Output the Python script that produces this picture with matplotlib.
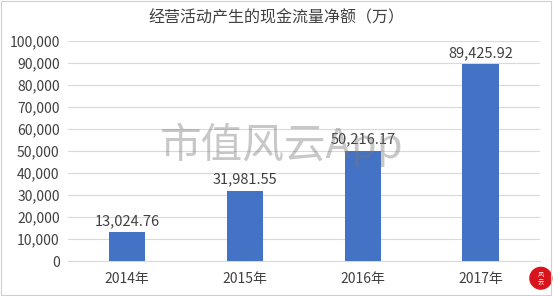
import matplotlib
matplotlib.use("Agg")
import matplotlib.pyplot as plt
from matplotlib.ticker import FuncFormatter
from matplotlib.patches import Ellipse

plt.rcParams['font.family'] = ['Noto Sans CJK SC', 'DejaVu Sans']

# data
years = ['2014年', '2015年', '2016年', '2017年']
cash_flow = [13024.76, 31981.55, 50216.17, 89425.92]
title = '经营活动产生的现金流量净额（万）'

BAR_COLOR = '#4472C4'
GRID_COLOR = '#D9D9D9'
TEXT_COLOR = '#404040'

fig = plt.figure(figsize=(5.53, 2.96), dpi=100)
ax = fig.add_axes([0.123, 0.118, 0.853, 0.743])

x = range(len(years))
bars = ax.bar(x, cash_flow, width=0.31, color=BAR_COLOR, zorder=3)

for xi, v in zip(x, cash_flow):
    ax.text(xi, v + 2000, f'{v:,.2f}', ha='center', va='bottom',
            fontsize=10.5, color=TEXT_COLOR)

ax.set_ylim(0, 100000)
ax.set_xlim(-0.5, len(years) - 0.5)
ax.set_yticks(range(0, 100001, 10000))
ax.yaxis.set_major_formatter(FuncFormatter(lambda v, p: f'{int(v):,}'))
ax.set_xticks(list(x))
ax.set_xticklabels(years)
ax.tick_params(axis='both', length=0, labelsize=10, colors=TEXT_COLOR)
ax.tick_params(axis='x', pad=8)
ax.tick_params(axis='y', pad=6)
ax.grid(axis='y', color=GRID_COLOR, linewidth=0.8, zorder=0)
for side in ['top', 'right', 'left']:
    ax.spines[side].set_visible(False)
ax.spines['bottom'].set_color(GRID_COLOR)

fig.text(0.5, 0.94, title, ha='center', va='center', fontsize=11.5, color=TEXT_COLOR)

# watermark
fig.text(0.51, 0.51, '市值风云App', ha='center', va='center', fontsize=30,
         color='#777777', alpha=0.4, zorder=10)

# small red logo in the bottom-right corner
fig.patches.append(Ellipse((0.978, 0.06), 0.042, 0.078, transform=fig.transFigure,
                           facecolor='#D8141C', edgecolor='none'))
fig.text(0.978, 0.06, '风\n云', ha='center', va='center', fontsize=4.5,
         color='white', linespacing=0.9)

# light frame around the figure
fig.patches.append(plt.Rectangle((0.002, 0.004), 0.994, 0.992, transform=fig.transFigure,
                                 fill=False, edgecolor='#D0D0D0', linewidth=0.8))

fig.savefig('out.png', dpi=100)
